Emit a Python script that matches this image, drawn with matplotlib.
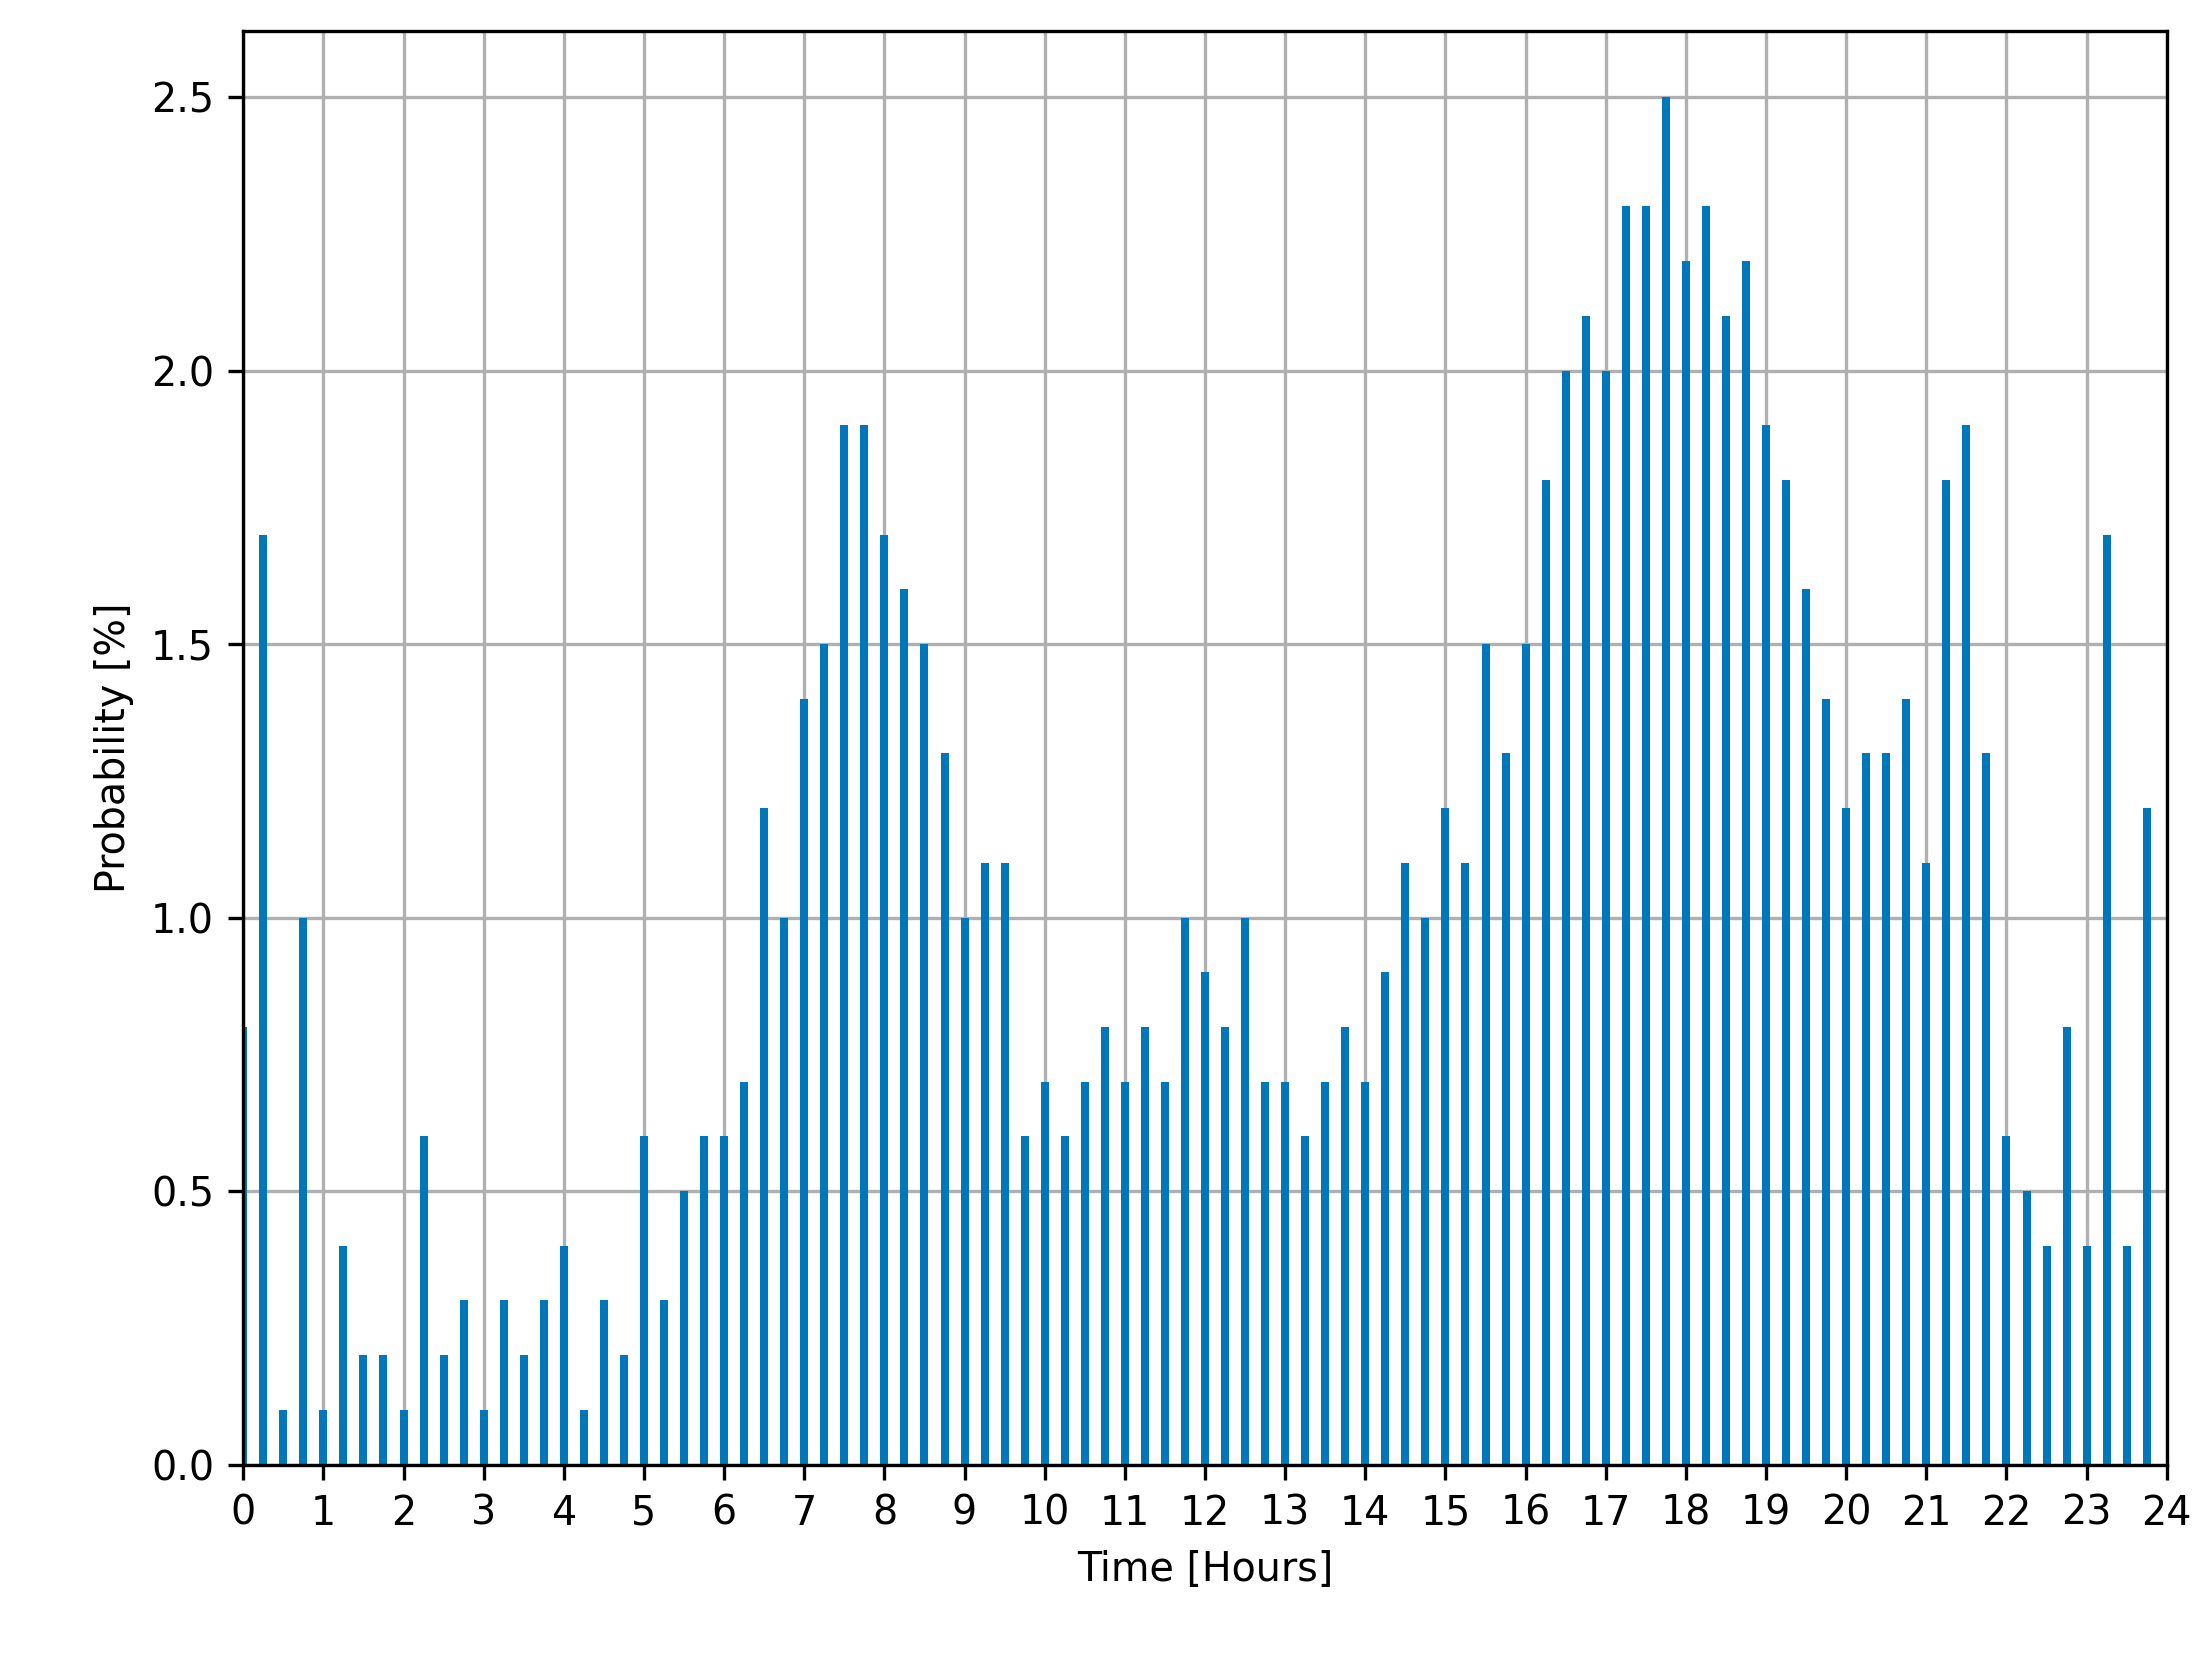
import numpy as np
import matplotlib
matplotlib.use("Agg")
from matplotlib import pyplot as plt

# probability per 15-minute slot
hours = np.arange(96) * 0.25
probability = [
    0.8, 1.7, 0.1, 1.0,
    0.1, 0.4, 0.2, 0.2,
    0.1, 0.6, 0.2, 0.3,
    0.1, 0.3, 0.2, 0.3,
    0.4, 0.1, 0.3, 0.2,
    0.6, 0.3, 0.5, 0.6,
    0.6, 0.7, 1.2, 1.0,
    1.4, 1.5, 1.9, 1.9,
    1.7, 1.6, 1.5, 1.3,
    1.0, 1.1, 1.1, 0.6,
    0.7, 0.6, 0.7, 0.8,
    0.7, 0.8, 0.7, 1.0,
    0.9, 0.8, 1.0, 0.7,
    0.7, 0.6, 0.7, 0.8,
    0.7, 0.9, 1.1, 1.0,
    1.2, 1.1, 1.5, 1.3,
    1.5, 1.8, 2.0, 2.1,
    2.0, 2.3, 2.3, 2.5,
    2.2, 2.3, 2.1, 2.2,
    1.9, 1.8, 1.6, 1.4,
    1.2, 1.3, 1.3, 1.4,
    1.1, 1.8, 1.9, 1.3,
    0.6, 0.5, 0.4, 0.8,
    0.4, 1.7, 0.4, 1.2,
]
xticks = np.arange(0, 25)

plt.rcParams["font.size"] = 9.5
fig = plt.figure(figsize=(2211 / 300, 1653 / 300), dpi=300)
ax = fig.add_axes([0.110, 0.114, 0.870, 0.867])
ax.set_axisbelow(True)
ax.grid(True, color="#b0b0b0", linewidth=0.8)
ax.bar(hours, probability, width=0.1, color="#0077BB", zorder=2)

ax.set_xlim(0, 24)
ax.set_ylim(0, 2.62)
ax.set_xticks(xticks)
ax.set_yticks([0.0, 0.5, 1.0, 1.5, 2.0, 2.5])
ax.set_xlabel("Time [Hours]")
ax.set_ylabel("Probability [%]")

fig.savefig("out.png", dpi=300)
